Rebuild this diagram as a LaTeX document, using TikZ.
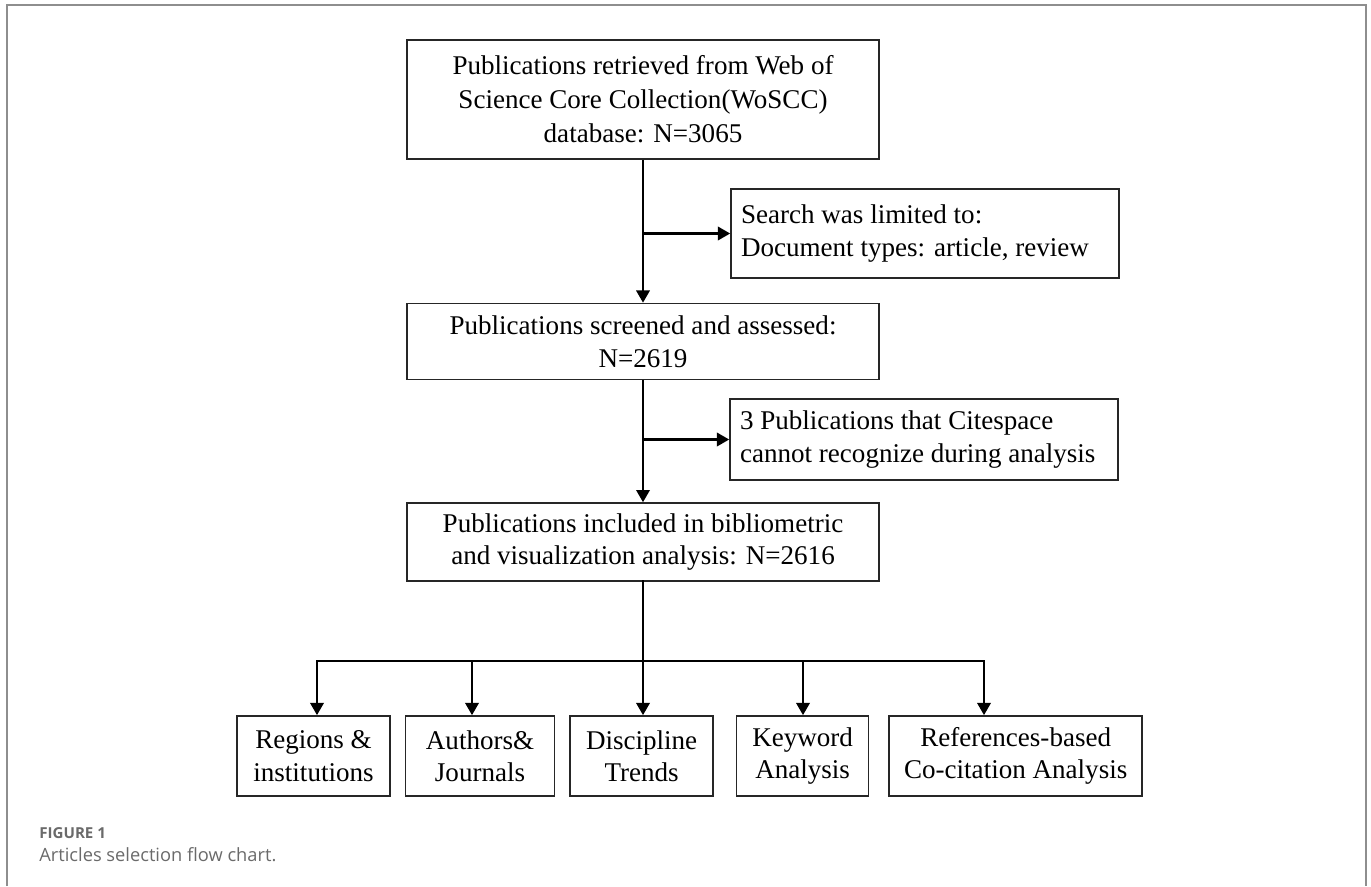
\documentclass[tikz,border=0pt]{standalone}
\usepackage{fontspec}
\setmainfont{Liberation Serif}
\newfontfamily\capfont{Open Sans}
\usepackage{tikz}
\usetikzlibrary{positioning,arrows.meta}
\definecolor{framegray}{HTML}{8E8E8E}
\definecolor{capgray}{HTML}{6A6A6A}

\begin{document}
\begin{tikzpicture}[
  x=0.02cm, y=-0.02cm,
  every node/.style={font=\fontsize{15.4}{18.5}\selectfont},
  box/.style={rectangle, draw=black!85, line width=0.9pt, inner sep=0pt,
    minimum width=9.44cm, align=center},
  sidebox/.style={rectangle, draw=black!85, line width=0.9pt, inner xsep=0.2cm,
    inner ysep=0pt, text width=7.36cm, align=flush left},
  topic/.style={rectangle, draw=black!85, line width=0.9pt, inner sep=0pt,
    minimum height=1.6cm, align=center},
  link/.style={line width=1.6pt, line cap=rect},
  arr/.style={line width=1.6pt, -{Triangle[length=7pt,width=7.5pt]}}
]
  \useasboundingbox (0,0) rectangle (1371,886);
  % figure frame, open at the bottom
  \draw[framegray, line width=0.9pt] (7,886) -- (7,5) -- (1366,5) -- (1366,886);

  \node[box, minimum height=2.38cm, font=\fontsize{15.4}{19.3}\selectfont] (pub) at (643,99.5)
    {Publications retrieved from Web of\\Science Core Collection(WoSCC)\\database: N=3065};
  \node[box, minimum height=1.52cm, below=2.86cm of pub] (scr)
    {Publications screened and assessed:\\N=2619};
  \node[box, minimum height=1.56cm, below=2.44cm of scr] (inc)
    {Publications included in bibliometric\\and visualization analysis: N=2616};

  \node[sidebox, minimum height=1.78cm] (lim) at (925,233.5)
    {Search was limited to:\\Document types: article, review};
  \node[sidebox, minimum height=1.62cm] (rem) at (924,439.5)
    {3 Publications that Citespace\\cannot recognize during analysis};

  % analysis topics
  \node[topic, minimum width=3.06cm] (reg) at (313.5,756) {Regions \&\\institutions};
  \node[topic, minimum width=2.98cm, right=0.28cm of reg] (aut) {Authors\&\\Journals};
  \node[topic, minimum width=2.86cm, right=0.28cm of aut] (dis) {Discipline\\Trends};
  \node[topic, minimum width=2.64cm, right=0.44cm of dis] (key) {Keyword\\Analysis};
  \node[topic, minimum width=5.06cm, right=0.38cm of key] (ref) {References-based\\Co-citation Analysis};

  \foreach \n/\x in {reg/317, aut/472, dis/643, key/803, ref/984}
    \coordinate (t-\n) at (\x,661);

  \draw[arr] (pub) -- (scr);
  \draw[arr] (pub.south |- lim.west) -- (lim.west);
  \draw[arr] (scr) -- (inc);
  \draw[arr] (scr.south |- rem.west) -- (rem.west);
  \draw[link] (inc.south) -- (inc.south |- t-dis);
  \draw[link] (t-reg) -- (t-ref);
  \foreach \n in {reg, aut, dis, key, ref}
    \draw[arr] (t-\n) -- (t-\n |- \n.north);

  \node[font=\capfont\bfseries\fontsize{8.6}{10}\selectfont, text=capgray,
    anchor=base west, inner sep=0pt] (fignum) at (39,838) {FIGURE 1};
  \node[font=\capfont\fontsize{10.4}{12}\selectfont, text=capgray,
    anchor=base west, inner sep=0pt] (figcap) at (39,861) {Articles selection flow chart.};
\end{tikzpicture}
\end{document}
